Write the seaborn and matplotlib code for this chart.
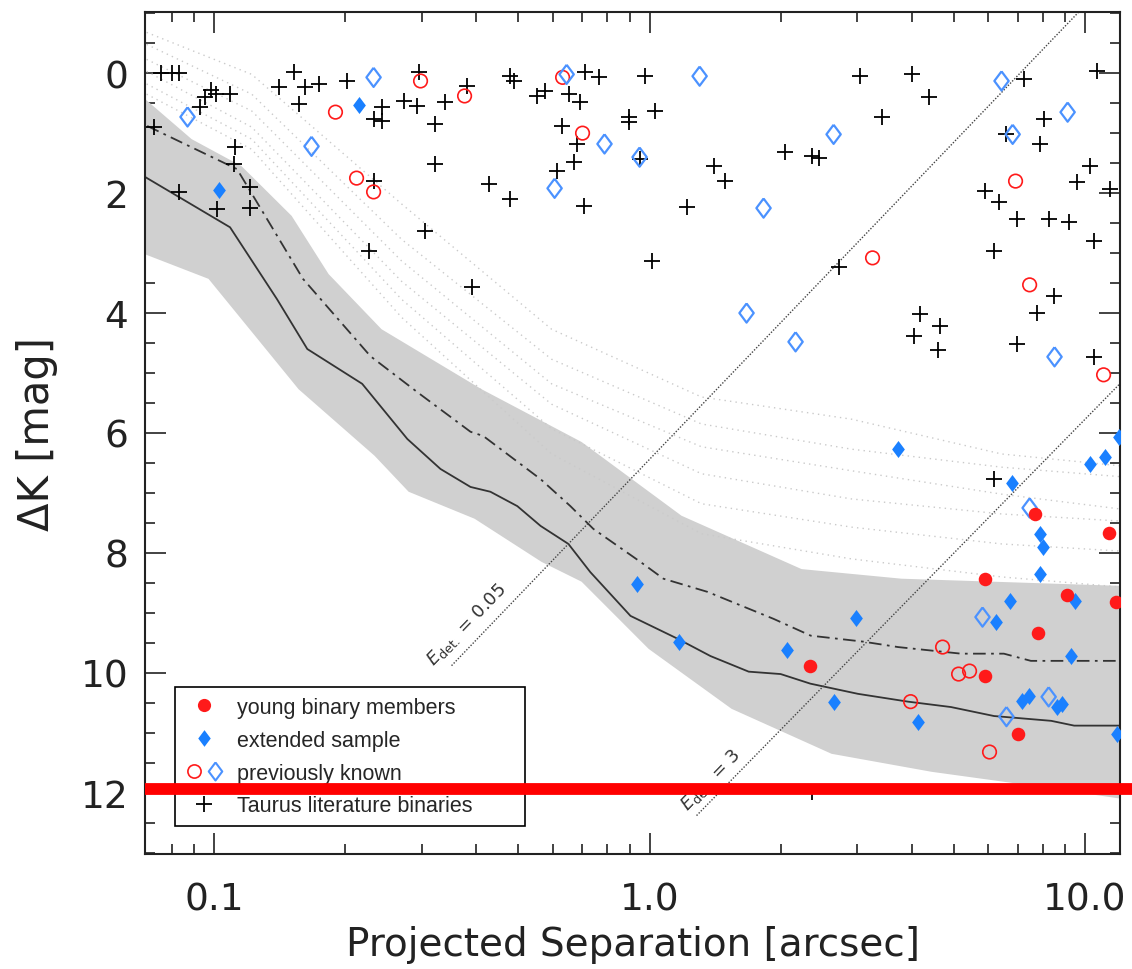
import numpy as np
import seaborn as sns
import matplotlib
matplotlib.use('Agg')
import matplotlib.pyplot as plt
import matplotlib.transforms as mtransforms
from matplotlib.lines import Line2D
from matplotlib.legend_handler import HandlerTuple
from matplotlib.ticker import FixedLocator, FixedFormatter, NullFormatter, MultipleLocator

# Taurus literature binaries (+)
lit_sep = [0.0757, 0.0799, 0.0829, 0.0926, 0.0951, 0.0982, 0.1008, 0.1085, 0.0726, 0.1114,
           0.1109, 0.0829, 0.1013, 0.1207, 0.1207, 0.1406, 0.1523, 0.1614, 0.1738, 0.1563,
           0.2014, 0.2424, 0.2324, 0.2424, 0.2324, 0.2264, 0.2723, 0.2917, 0.3383, 0.3209,
           0.3209, 0.2948, 0.3800, 0.4270, 0.4771, 0.3043, 0.3902, 0.4771, 0.4873, 0.5501,
           0.5741, 0.6516, 0.6907, 0.6281, 0.6799, 0.6690, 0.6116, 0.7054, 0.7091, 0.7637,
           0.8950, 0.8950, 0.9739, 1.027, 0.9485, 1.403, 1.487, 1.216, 1.011, 2.042,
           2.355, 2.444, 3.035, 3.997, 4.372, 3.410, 2.716, 7.26, 6.60, 8.03,
           7.86, 10.63, 10.24, 9.56, 11.39, 5.88, 6.36, 6.96, 8.25, 9.21,
           10.46, 6.17, 8.47, 7.74, 4.169, 4.634, 4.04, 4.585, 6.96, 10.46,
           6.17, 2.355]
lit_dk = [0.00, 0.00, 0.00, 0.57, 0.40, 0.28, 0.35, 0.35, 0.90, 1.23,
          1.52, 1.98, 2.27, 1.90, 2.25, 0.23, -0.02, 0.23, 0.18, 0.52,
          0.13, 0.57, 0.77, 0.80, 1.80, 2.97, 0.47, 0.55, 0.48, 0.85,
          1.52, -0.02, 0.22, 1.85, 2.10, 2.63, 3.57, 0.05, 0.13, 0.38,
          0.30, 0.35, 0.48, 0.88, 1.18, 1.48, 1.63, 2.22, -0.02, 0.07,
          0.73, 0.82, 0.05, 0.63, 1.43, 1.55, 1.80, 2.23, 3.13, 1.32,
          1.38, 1.42, 0.05, 0.02, 0.40, 0.73, 3.23, 0.10, 1.02, 0.77,
          1.18, -0.03, 1.55, 1.82, 1.93, 1.97, 2.15, 2.43, 2.43, 2.48,
          2.80, 2.97, 3.72, 4.00, 4.02, 4.22, 4.38, 4.62, 4.52, 4.73,
          6.77, 11.98]

# previously known (open symbols)
prev_young_sep = [0.190, 0.2124, 0.2324, 0.2979, 0.376, 0.6314, 0.7016, 3.251, 6.925, 7.46,
                  11.03, 4.708, 5.124, 5.43, 3.976, 6.035]
prev_young_dk = [0.65, 1.75, 1.98, 0.13, 0.38, 0.07, 1.00, 3.08, 1.80, 3.53,
                 5.03, 9.57, 10.02, 9.97, 10.48, 11.32]
prev_ext_sep = [0.0869, 0.1674, 0.2324, 0.645, 0.6052, 0.788, 0.9485, 1.303, 2.646, 1.827,
                6.43, 6.82, 9.12, 1.670, 2.164, 8.51, 7.46, 5.815, 8.25, 6.60]
prev_ext_dk = [0.73, 1.22, 0.07, 0.02, 1.92, 1.18, 1.40, 0.05, 1.02, 2.25,
               0.13, 1.02, 0.65, 4.00, 4.48, 4.73, 7.25, 9.07, 10.40, 10.73]

# new detections
ext_sep = [0.2147, 0.1027, 0.9335, 1.166, 2.064, 3.71, 6.78, 10.29, 11.09, 11.94,
           7.86, 7.99, 7.90, 6.71, 9.46, 6.26, 2.972, 9.26, 7.15, 7.42,
           8.60, 8.83, 4.125, 2.646, 11.81]
ext_dk = [0.53, 1.95, 8.52, 9.48, 9.62, 6.27, 6.83, 6.52, 6.40, 6.07,
          7.68, 7.90, 8.35, 8.80, 8.80, 9.15, 9.08, 9.72, 10.47, 10.38,
          10.57, 10.52, 10.82, 10.48, 11.02]
young_sep = [7.66, 11.33, 5.88, 9.07, 11.75, 7.78, 2.330, 5.88, 7.00]
young_dk = [7.35, 7.67, 8.43, 8.70, 8.82, 9.33, 9.88, 10.05, 11.02]

# detection limits
med_sep = [0.0694, 0.1088, 0.1395, 0.1637, 0.2188, 0.2778, 0.331, 0.388, 0.431, 0.497,
           0.562, 0.651, 0.731, 0.904, 1.159, 1.380, 1.689, 2.00, 2.34, 3.01,
           3.92, 4.92, 6.18, 8.36, 9.44, 12.1]
med_dk = [1.73, 2.57, 3.77, 4.60, 5.18, 6.10, 6.60, 6.90, 6.98, 7.22,
          7.55, 7.85, 8.32, 9.05, 9.43, 9.72, 9.98, 10.02, 10.18, 10.35,
          10.48, 10.57, 10.72, 10.80, 10.88, 10.88]
best_sep = [0.0702, 0.1129, 0.160, 0.2286, 0.293, 0.388, 0.415, 0.562, 0.658, 0.743,
            0.953, 1.076, 1.359, 1.927, 2.345, 3.10, 3.72, 5.19, 6.51, 7.51, 12.1]
best_dk = [0.88, 1.60, 3.43, 4.72, 5.32, 5.98, 6.05, 6.77, 7.22, 7.60,
           8.15, 8.43, 8.65, 9.10, 9.38, 9.48, 9.57, 9.68, 9.68, 9.80, 9.80]

# envelope of the individual contrast curves
band_up_sep = [0.0694, 0.0888, 0.1156, 0.1507, 0.1832, 0.2424, 0.4113, 0.698, 1.184, 2.234, 3.79, 12.13]
band_up_dk = [0.43, 1.10, 1.55, 2.38, 3.35, 4.27, 5.27, 6.15, 7.38, 8.27, 8.43, 8.55]
band_lo_sep = [0.0694, 0.0971, 0.1563, 0.2336, 0.2797, 0.3964, 0.565, 0.698, 0.995, 1.543,
               2.618, 4.442, 7.54, 12.13]
band_lo_dk = [3.02, 3.43, 5.27, 6.38, 6.98, 7.43, 8.15, 8.48, 9.60, 10.60,
              11.35, 11.65, 11.88, 12.10]

# sparse contrast curves above the band
curve_sep = [0.0700, 0.1220, 0.2694, 0.5957, 1.316, 2.909, 6.43, 12.13]
curve_dk = [
    [-0.68, 0.02, 2.18, 4.27, 5.40, 5.77, 6.35, 6.55],
    [-0.48, 0.35, 2.77, 4.77, 5.85, 6.27, 6.57, 6.73],
    [-0.23, 0.63, 3.13, 5.18, 6.23, 6.63, 7.02, 7.27],
    [-0.03, 0.90, 3.47, 5.52, 6.68, 7.10, 7.35, 7.47],
    [0.18, 1.10, 3.77, 5.93, 7.18, 7.57, 7.85, 7.97],
    [0.35, 1.27, 4.07, 6.35, 7.68, 8.10, 8.40, 8.57],
]

# E_det lines
edet1_sep = [0.351, 9.82]
edet1_dk = [9.88, -1.07]
edet3_sep = [1.282, 12.13]
edet3_dk = [12.38, 5.15]

red_limit = 11.93

RED = '#ff1a1a'
BLUE = '#1a80ff'
BLUE_OPEN = '#4b92ff'
INK = '#222222'
diamond = [(0, 1), (0.75, 0), (0, -1), (-0.75, 0), (0, 1)]

sns.set_style('ticks')
plt.rcParams['font.family'] = ['DejaVu Sans']

fig = plt.figure(figsize=(11.32, 9.70), dpi=100)
ax = fig.add_axes([0.1281, 0.1186, 0.8613, 0.868])
ax.set_xscale('log')

ax.fill(band_up_sep + band_lo_sep[::-1], band_up_dk + band_lo_dk[::-1],
        color='#d0d0d0', lw=0, zorder=1)
for dk in curve_dk:
    sns.lineplot(x=curve_sep, y=dk, ax=ax, color='#cacaca', lw=1.0,
                 linestyle=(0, (1, 3)), sort=False, estimator=None, zorder=1.5)

sns.lineplot(x=med_sep, y=med_dk, ax=ax, color='#333333', lw=1.3,
             sort=False, estimator=None, zorder=2)
sns.lineplot(x=best_sep, y=best_dk, ax=ax, color='#333333', lw=1.3,
             linestyle=(0, (7, 3, 1.5, 3)), sort=False, estimator=None, zorder=2)

for s, d in [(edet1_sep, edet1_dk), (edet3_sep, edet3_dk)]:
    sns.lineplot(x=s, y=d, ax=ax, color='#444444', lw=1.0,
                 linestyle=(0, (1, 1.2)), sort=False, estimator=None, zorder=2)

ax.text(0.380, 9.18, r'$E_{\rm det.}$ = 0.05', rotation=46, ha='center', va='center',
        fontsize=13, color='#333333', rotation_mode='anchor')
ax.text(1.38, 11.78, r'$E_{\rm det.}$ = 3', rotation=46, ha='center', va='center',
        fontsize=13, color='#333333', rotation_mode='anchor')

sns.scatterplot(x=lit_sep, y=lit_dk, ax=ax, marker='+', s=130, color='black',
                linewidth=1.3, zorder=3)
sns.scatterplot(x=prev_young_sep, y=prev_young_dk, ax=ax, marker='o', s=95,
                color=RED, facecolor='none', edgecolor=RED, linewidth=1.2, zorder=3)
sns.scatterplot(x=prev_ext_sep, y=prev_ext_dk, ax=ax, marker=diamond, s=190,
                color=BLUE_OPEN, facecolor='none', edgecolor=BLUE_OPEN, linewidth=1.6,
                zorder=3)
sns.scatterplot(x=ext_sep, y=ext_dk, ax=ax, marker=diamond, s=150,
                color=BLUE, linewidth=0, zorder=3)
sns.scatterplot(x=young_sep, y=young_dk, ax=ax, marker='o', s=95,
                color=RED, linewidth=0, zorder=3)

ax.set_xlim(0.0694, 12.03)
ax.set_ylim(13.02, -1.02)

ax.xaxis.set_major_locator(FixedLocator([0.1, 1.0, 10.0]))
ax.xaxis.set_major_formatter(FixedFormatter(['0.1', '1.0', '10.0']))
ax.xaxis.set_minor_locator(FixedLocator([0.08, 0.09, 0.2, 0.3, 0.4, 0.5, 0.6, 0.7, 0.8, 0.9,
                                         2, 3, 4, 5, 6, 7, 8, 9]))
ax.xaxis.set_minor_formatter(NullFormatter())
ax.yaxis.set_major_locator(MultipleLocator(2))
ax.yaxis.set_minor_locator(MultipleLocator(0.5))

ax.tick_params(which='both', direction='in', top=True, right=True, width=1.2,
               color=INK, labelcolor=INK)
ax.tick_params(which='major', length=15, labelsize=27)
ax.tick_params(which='minor', length=7)
ax.tick_params(axis='x', which='major', pad=20)
ax.tick_params(axis='y', which='major', pad=12)
for sp in ax.spines.values():
    sp.set_linewidth(1.5)
    sp.set_color(INK)

ax.set_xlabel('Projected Separation [arcsec]', fontsize=28, color=INK, labelpad=5)
ax.set_ylabel('ΔK [mag]', fontsize=30, color=INK, labelpad=16)

trans = mtransforms.blended_transform_factory(ax.transAxes, ax.transData)
ax.plot([0, 1.0123], [red_limit, red_limit], transform=trans, color='#ff0000', lw=8.5,
        clip_on=False, solid_capstyle='butt', zorder=10)

h_young = Line2D([], [], marker='o', ls='none', color=RED, markersize=9.5, mew=0)
h_ext = Line2D([], [], marker=diamond, ls='none', color=BLUE, markersize=12, mew=0)
h_prev = (Line2D([], [], marker='o', ls='none', mfc='none', mec=RED, markersize=9.5, mew=1.2),
          Line2D([], [], marker=diamond, ls='none', mfc='none', mec=BLUE_OPEN, markersize=13,
                 mew=1.5))
h_lit = Line2D([], [], marker='+', ls='none', color='black', markersize=12, mew=1.3)
leg = ax.legend([h_young, h_ext, h_prev, h_lit],
                ['young binary members', 'extended sample', 'previously known',
                 'Taurus literature binaries'],
                handler_map={tuple: HandlerTuple(ndivide=None, pad=0.2)},
                loc='lower left', bbox_to_anchor=(0.031, 0.033, 0.359, 0.0), mode='expand',
                borderaxespad=0, frameon=True, fancybox=False, framealpha=1,
                edgecolor='black', prop={'family': 'Liberation Sans', 'size': 15.5},
                handlelength=1.8, handletextpad=0.6, labelspacing=0.55, borderpad=0.45)
leg.get_frame().set_linewidth(1.2)
leg.set_zorder(5)

fig.savefig('out.png', dpi=100)
